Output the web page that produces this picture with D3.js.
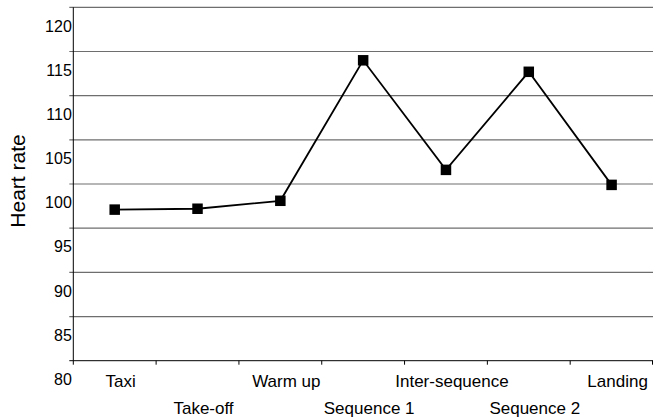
<!DOCTYPE html>
<html lang="en">
<head>
  <meta charset="UTF-8">
  <title>Heart rate</title>
  <style>
    body {
      margin: 0;
      background: #fff;
      font-family: 'Liberation Sans', Arial, sans-serif;
    }
    .grid line { stroke: #6e6e6e; stroke-width: 1.2px; }
    .axis-line { stroke: #000; stroke-width: 1px; }
    .tick-label { font-size: 16px; fill: #000; }
    .cat-label { font-size: 17px; fill: #000; }
    .y-title { font-size: 21px; fill: #000; }
    .series { fill: none; stroke: #000; stroke-width: 1.8px; }
  </style>
  <script src="https://d3js.org/d3.v7.min.js"></script>
</head>
<body>
<svg width="653" height="418"></svg>
<script>
  // data
  const categories = ['Taxi', 'Take-off', 'Warm up', 'Sequence 1', 'Inter-sequence', 'Sequence 2', 'Landing'];
  const heartRate = [97.1, 97.2, 98.1, 114.0, 101.6, 112.7, 99.9];
  const yTicks = [80, 85, 90, 95, 100, 105, 110, 115, 120];

  const svg = d3.select("svg"),
        width = +svg.attr("width");

  const plotLeft = 73.3, plotTop = 7.3, plotBottom = 360.7;

  const x = d3.scaleBand()
        .domain(categories)
        .range([plotLeft, width]);

  const y = d3.scaleLinear()
        .domain([80, 120])
        .range([plotBottom, plotTop]);

  // horizontal gridlines (drawn slightly past the axis, like tick marks)
  svg.append("g")
        .attr("class", "grid")
        .selectAll("line")
        .data(yTicks.filter(d => d > 80))
        .enter().append("line")
        .attr("x1", plotLeft - 4)
        .attr("x2", width)
        .attr("y1", d => y(d))
        .attr("y2", d => y(d));

  // y axis line
  svg.append("line")
        .attr("class", "axis-line")
        .attr("x1", plotLeft).attr("x2", plotLeft)
        .attr("y1", plotTop).attr("y2", plotBottom);

  // x axis line
  svg.append("line")
        .attr("class", "axis-line")
        .attr("x1", plotLeft - 4).attr("x2", width)
        .attr("y1", plotBottom).attr("y2", plotBottom);

  // x ticks at band edges
  const edges = categories.map(c => x(c)).concat([x(categories[categories.length - 1]) + x.bandwidth()]);
  svg.append("g")
        .selectAll("line")
        .data(edges)
        .enter().append("line")
        .attr("class", "axis-line")
        .attr("x1", d => Math.min(d, width - 0.5))
        .attr("x2", d => Math.min(d, width - 0.5))
        .attr("y1", plotBottom)
        .attr("y2", plotBottom + 4);

  // y tick labels: sit below their gridline, as in the source
  svg.append("g")
        .selectAll("text")
        .data(yTicks)
        .enter().append("text")
        .attr("class", "tick-label")
        .attr("x", plotLeft - 1.5)
        .attr("y", d => y(d) + 18.5)
        .attr("dy", "0.36em")
        .attr("text-anchor", "end")
        .text(d => d);

  // category labels staggered on two rows
  svg.append("g")
        .selectAll("text")
        .data(categories)
        .enter().append("text")
        .attr("class", "cat-label")
        .attr("x", d => x(d) + x.bandwidth() / 2 + 6)
        .attr("y", (d, i) => i % 2 === 0 ? 386.7 : 414)
        .attr("text-anchor", "middle")
        .text(d => d);

  // y title
  svg.append("text")
        .attr("class", "y-title")
        .attr("transform", "translate(25,181) rotate(-90)")
        .attr("text-anchor", "middle")
        .text("Heart rate");

  const pts = categories.map((c, i) => [x(c) + x.bandwidth() / 2, y(heartRate[i])]);

  svg.append("path")
        .attr("class", "series")
        .attr("d", d3.line()(pts));

  const m = 10.5;
  svg.append("g")
        .selectAll("rect")
        .data(pts)
        .enter().append("rect")
        .attr("x", d => d[0] - m / 2)
        .attr("y", d => d[1] - m / 2)
        .attr("width", m)
        .attr("height", m)
        .attr("fill", "#000");
</script>
</body>
</html>
